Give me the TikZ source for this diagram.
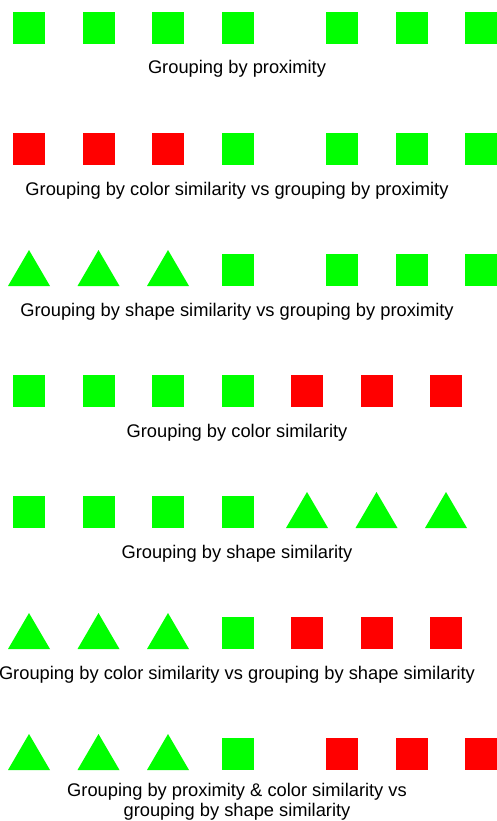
\documentclass[tikz,border=0pt]{standalone}
\usepackage{fontspec}
\setmainfont{Liberation Sans}
\definecolor{pgreen}{RGB}{0,255,0}
\definecolor{pred}{RGB}{255,0,0}
\newcommand\gsq[3]{\fill[#3] (#1,#2) rectangle ++(32,32);}
\newcommand\gtri[3]{\fill[#3] (#1-5,#2+32) -- (#1+16,#2-4) -- (#1+37,#2+32) -- cycle;}
\begin{document}
\begin{tikzpicture}[x=1pt,y=-1pt,
  captxt/.style={font=\fontsize{18.3}{20}\selectfont, inner sep=0pt, anchor=base, align=center}]
\useasboundingbox (0,0) rectangle (497,821);
% row 1
\foreach \i in {0,1,2,3} {\gsq{13+69.5*\i}{12}{pgreen}}
\foreach \i in {0,1,2} {\gsq{326+69.5*\i}{12}{pgreen}}
\node[captxt] (c1) at (237,74) {Grouping by proximity};
% row 2
\foreach \i in {0,1,2} {\gsq{13+69.5*\i}{133}{pred}}
\gsq{221.5}{133}{pgreen}
\foreach \i in {0,1,2} {\gsq{326+69.5*\i}{133}{pgreen}}
\node[captxt] (c2) at (237,195) {Grouping by color similarity vs grouping by proximity};
% row 3
\foreach \i in {0,1,2} {\gtri{13+69.5*\i}{254}{pgreen}}
\gsq{221.5}{254}{pgreen}
\foreach \i in {0,1,2} {\gsq{326+69.5*\i}{254}{pgreen}}
\node[captxt] (c3) at (237,316) {Grouping by shape similarity vs grouping by proximity};
% row 4
\foreach \i in {0,1,2,3} {\gsq{13+69.5*\i}{375}{pgreen}}
\foreach \i in {4,5,6} {\gsq{13+69.5*\i}{375}{pred}}
\node[captxt] (c4) at (237,437) {Grouping by color similarity};
% row 5
\foreach \i in {0,1,2,3} {\gsq{13+69.5*\i}{496}{pgreen}}
\foreach \i in {4,5,6} {\gtri{13+69.5*\i}{496}{pgreen}}
\node[captxt] (c5) at (237,558) {Grouping by shape similarity};
% row 6
\foreach \i in {0,1,2} {\gtri{13+69.5*\i}{617}{pgreen}}
\gsq{221.5}{617}{pgreen}
\foreach \i in {4,5,6} {\gsq{13+69.5*\i}{617}{pred}}
\node[captxt] (c6) at (237,679) {Grouping by color similarity vs grouping by shape similarity};
% row 7
\foreach \i in {0,1,2} {\gtri{13+69.5*\i}{738}{pgreen}}
\gsq{221.5}{738}{pgreen}
\foreach \i in {0,1,2} {\gsq{326+69.5*\i}{738}{pred}}
\node[captxt] (c7) at (237,816) {Grouping by proximity \& color similarity vs\\grouping by shape similarity};
\end{tikzpicture}
\end{document}
